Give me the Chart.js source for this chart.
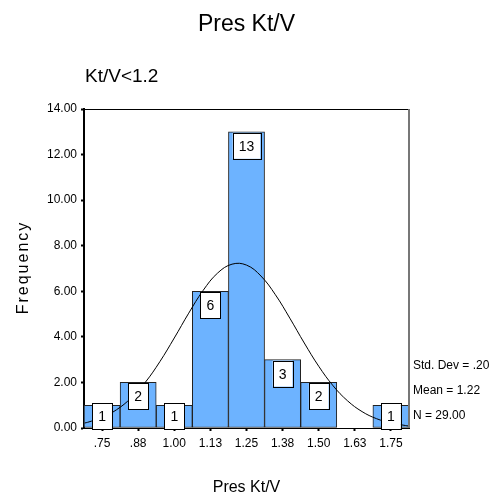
<!DOCTYPE html>
<html>
<head>
<meta charset="utf-8">
<script src="https://cdn.jsdelivr.net/npm/chart.js@4/dist/chart.umd.min.js"></script>
<style>
  body { margin: 0; background: #fff; }
  #wrap { width: 495px; height: 495px; }
</style>
</head>
<body>
<div id="wrap"><canvas id="histChart"></canvas></div>
<script>
// histogram bins (centres) and frequencies
const binCenters = [0.75, 0.875, 1.0, 1.125, 1.25, 1.375, 1.5, 1.625, 1.75];
const counts = [1, 2, 1, 6, 13, 3, 2, 0, 1];
const tickLabels = ['.75', '.88', '1.00', '1.13', '1.25', '1.38', '1.50', '1.63', '1.75'];

// normal curve
const curveX = [0.69, 0.70, 0.75, 0.80, 0.85, 0.90, 0.95, 1.00, 1.05, 1.10, 1.15, 1.20, 1.25, 1.30, 1.35, 1.40, 1.45, 1.50, 1.55, 1.60, 1.65, 1.70, 1.75, 1.80, 1.81];
const curveY = [0.22, 0.25, 0.46, 0.80, 1.31, 2.01, 2.91, 3.95, 5.04, 6.04, 6.80, 7.19, 7.15, 6.67, 5.85, 4.82, 3.73, 2.71, 1.85, 1.19, 0.72, 0.41, 0.22, 0.11, 0.09];

const statLines = ['Std. Dev = .20', 'Mean = 1.22', 'N = 29.00'];
const yTicks = [0, 2, 4, 6, 8, 10, 12, 14];

const FONT = '"Liberation Sans", Arial, sans-serif';

const decorations = {
    id: 'decorations',
    afterDatasetsDraw(chart) {
        const ctx = chart.ctx;
        const xs = chart.scales.x, ys = chart.scales.y;
        const area = chart.chartArea;
        ctx.save();
        // count boxes
        ctx.font = '14px ' + FONT;
        ctx.textAlign = 'center';
        ctx.textBaseline = 'middle';
        binCenters.forEach((c, i) => {
            if (!counts[i]) return;
            const txt = String(counts[i]);
            const w = ctx.measureText(txt).width + 12;
            const h = 26;
            const cx = xs.getPixelForValue(c);
            let top = ys.getPixelForValue(counts[i]) + 1;
            if (top + h > area.bottom + 1) top = area.bottom + 1 - h;
            ctx.fillStyle = '#fff';
            ctx.fillRect(cx - w / 2, top, w, h);
            ctx.strokeStyle = '#000';
            ctx.lineWidth = 1;
            ctx.strokeRect(Math.round(cx - w / 2) + 0.5, Math.round(top) + 0.5, Math.round(w), h);
            ctx.fillStyle = '#000';
            ctx.fillText(txt, cx, top + h / 2 + 1);
        });
        // frame top and right
        ctx.strokeStyle = '#000';
        ctx.beginPath();
        ctx.moveTo(area.left, area.top + 0.5);
        ctx.lineTo(area.right, area.top + 0.5);
        ctx.stroke();
        ctx.strokeStyle = '#777';
        ctx.lineWidth = 2;
        ctx.beginPath();
        ctx.moveTo(area.right, area.top);
        ctx.lineTo(area.right, area.bottom);
        ctx.stroke();
        ctx.restore();
    },
    afterDraw(chart) {
        const ctx = chart.ctx;
        const area = chart.chartArea;
        ctx.save();
        ctx.fillStyle = '#000';
        ctx.textBaseline = 'middle';
        ctx.textAlign = 'center';
        ctx.font = '23px ' + FONT;
        ctx.fillText('Pres Kt/V', (area.left + area.right) / 2, 25);
        ctx.textAlign = 'left';
        ctx.font = '19px ' + FONT;
        ctx.fillText('Kt/V<1.2', 85, 77);
        ctx.font = '12px ' + FONT;
        statLines.forEach((s, i) => ctx.fillText(s, 413, 366 + i * 25));
        ctx.textAlign = 'center';
        ctx.font = '16px ' + FONT;
        ctx.fillText('Pres Kt/V', (area.left + area.right) / 2, 488);
        ctx.translate(24, (area.top + area.bottom) / 2);
        ctx.rotate(-Math.PI / 2);
        ctx.letterSpacing = '2px';
        ctx.fillText('Frequency', 1, 0);
        ctx.restore();
    }
};

const ctx = document.getElementById('histChart').getContext('2d');
const chart = new Chart(ctx, {
    type: 'bar',
    data: {
        datasets: [
            {
                type: 'line',
                data: curveX.map((x, i) => ({ x: x, y: curveY[i] })),
                borderColor: '#000',
                borderWidth: 1,
                pointRadius: 0,
                tension: 0.4,
                fill: false,
                order: 0
            },
            {
                type: 'bar',
                data: binCenters.map((x, i) => ({ x: x, y: counts[i] })),
                backgroundColor: '#6db3ff',
                borderColor: '#222',
                borderWidth: 1,
                borderSkipped: false,
                barPercentage: 1,
                categoryPercentage: 1,
                order: 1
            }
        ]
    },
    options: {
        responsive: true,
        maintainAspectRatio: false,
        animation: false,
        layout: { padding: { top: 109, right: 86, left: 0, bottom: 0 } },
        plugins: { legend: { display: false }, tooltip: { enabled: false } },
        scales: {
            x: {
                type: 'linear',
                offset: false,
                min: 0.6875,
                max: 1.8125,
                afterFit: s => { s.height = 67; },
                afterBuildTicks: s => { s.ticks = binCenters.map(v => ({ value: v })); },
                ticks: {
                    autoSkip: false,
                    maxRotation: 0,
                    padding: 5,
                    color: '#000',
                    font: { family: FONT, size: 12 },
                    callback: (v, i) => tickLabels[i]
                },
                grid: { offset: false, drawOnChartArea: false, tickLength: 3, tickWidth: 2, color: '#000' },
                border: { color: '#000', width: 1 }
            },
            y: {
                min: 0,
                max: 14,
                afterFit: s => { s.width = 84; },
                afterBuildTicks: s => { s.ticks = yTicks.map(v => ({ value: v })); },
                ticks: {
                    padding: 4,
                    color: '#000',
                    font: { family: FONT, size: 12 },
                    callback: v => v.toFixed(2)
                },
                grid: { drawOnChartArea: false, tickLength: 3, tickWidth: 2, color: '#000' },
                border: { color: '#000', width: 2 }
            }
        }
    },
    plugins: [decorations]
});
</script>
</body>
</html>
